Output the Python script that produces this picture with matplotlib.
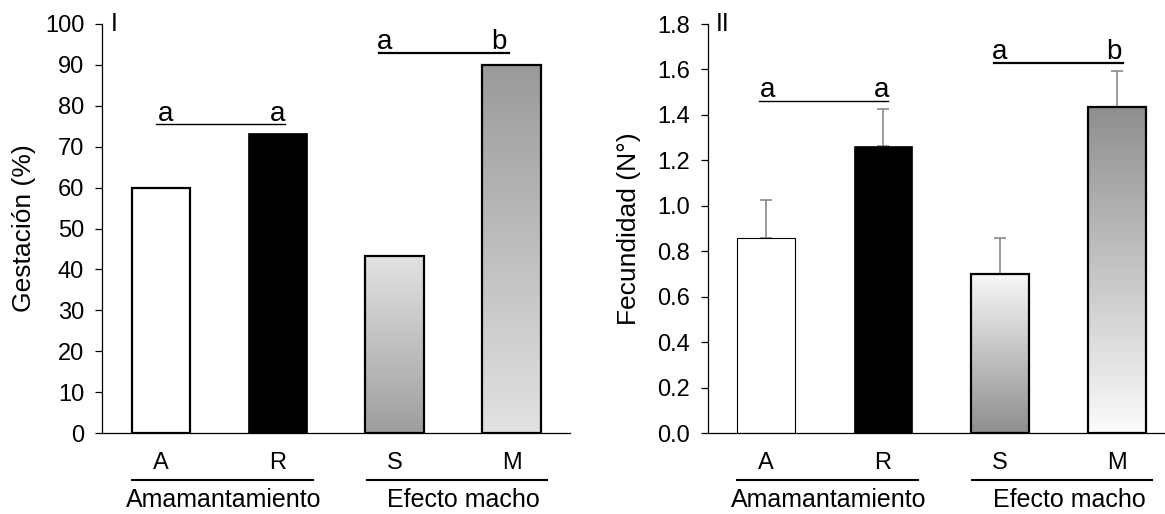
import numpy as np
import matplotlib
matplotlib.use('Agg')
import matplotlib.pyplot as plt
from matplotlib.colors import LinearSegmentedColormap

plt.rcParams['font.family'] = ['Liberation Sans', 'DejaVu Sans']

# data
categories = ['A', 'R', 'S', 'M']
groups = ['Amamantamiento', 'Efecto macho']
gestacion = [60.0, 73.3, 43.2, 90.0]
fecundidad = [0.86, 1.265, 0.70, 1.435]
fecundidad_err = [0.165, 0.162, 0.157, 0.16]

# significance letters: (x positions, letters, line start, line end, line height)
sig_gest = [([0.04, 1.0], ['a', 'a'], -0.04, 1.06, 75.5),
            ([1.91, 2.89], ['a', 'b'], 1.87, 2.98, 93.0)]
sig_fec = [([0.01, 0.99], ['a', 'a'], -0.06, 1.04, 1.463),
           ([2.0, 2.975], ['a', 'b'], 1.95, 3.05, 1.630)]


def gradient_fill(ax, rect, c_bottom, c_top):
    x0, y0 = rect.get_x(), rect.get_y()
    w, h = rect.get_width(), rect.get_height()
    grad = np.linspace(0, 1, 256).reshape(-1, 1)
    cmap = LinearSegmentedColormap.from_list('g', [c_bottom, c_top])
    im = ax.imshow(grad, cmap=cmap, extent=(x0, x0 + w, y0, y0 + h),
                   origin='lower', aspect='auto', zorder=1.5, interpolation='bilinear')
    im.set_clip_path(rect)


def style_axes(ax, ymax, ystep, fmt, ylabel, panel):
    ax.set_xlim(-0.5, 3.5)
    ax.set_ylim(0, ymax)
    ax.set_yticks(np.arange(0, ymax + ystep / 2, ystep))
    ax.set_yticklabels([fmt.format(v) for v in np.arange(0, ymax + ystep / 2, ystep)])
    ax.set_xticks(range(len(categories)))
    ax.set_xticklabels(categories)
    ax.tick_params(axis='x', length=0, pad=14, labelsize=17)
    ax.tick_params(axis='y', length=5, width=0.9, pad=8, labelsize=17, direction='out')
    for s in ['top', 'right']:
        ax.spines[s].set_visible(False)
    for s in ['left', 'bottom']:
        ax.spines[s].set_linewidth(0.9)
    ax.set_ylabel(ylabel, fontsize=19)
    ax.yaxis.set_label_coords(-0.142, 0.5)
    ax.text(0.018, 1.0, panel, transform=ax.transAxes, fontsize=18,
            ha='left', va='center')
    trans = ax.get_xaxis_transform()
    ax.plot([-0.25, 1.3], [-0.115, -0.115], transform=trans, color='black',
            lw=1.5, clip_on=False)
    ax.plot([1.76, 3.3], [-0.115, -0.115], transform=trans, color='black',
            lw=1.5, clip_on=False)
    ax.text(0.535, -0.165, groups[0], transform=trans, fontsize=18,
            ha='center', va='center')
    ax.text(2.59, -0.165, groups[1], transform=trans, fontsize=18,
            ha='center', va='center')


def draw_sig(ax, sig, widths):
    for (xs, letters, x0, x1, y), lw in zip(sig, widths):
        ax.plot([x0, x1], [y, y], color='black', lw=lw, clip_on=False, zorder=4)
        for x, t in zip(xs, letters):
            ax.annotate(t, (x, y), xytext=(0, 2.5), textcoords='offset points',
                        ha='center', va='baseline', fontsize=20, annotation_clip=False)


fig = plt.figure(figsize=(11.65, 5.14), dpi=100)
ax1 = fig.add_axes([102.3 / 1165, 81 / 514, 467.7 / 1165, 409 / 514])
ax2 = fig.add_axes([707.7 / 1165, 81 / 514, 467.7 / 1165, 409 / 514])

x = np.arange(len(categories))

# panel I
bars1 = ax1.bar(x, gestacion, width=0.5, zorder=2,
                facecolor='none', edgecolor='black', linewidth=1.6)
bars1[0].set_facecolor('white')
bars1[1].set_facecolor('black')
bars1[1].set_linewidth(0.5)
gradient_fill(ax1, bars1[2], '#9e9e9e', '#e2e2e2')
gradient_fill(ax1, bars1[3], '#e2e2e2', '#9a9a9a')
style_axes(ax1, 100, 10, '{:.0f}', 'Gestación (%)', 'I')
draw_sig(ax1, sig_gest, [1.0, 1.6])

# panel II
bars2 = ax2.bar(x, fecundidad, width=0.5, zorder=2,
                facecolor='none', edgecolor='black', linewidth=1.6)
bars2[0].set_facecolor('white')
bars2[0].set_linewidth(0.8)
bars2[1].set_facecolor('black')
bars2[1].set_linewidth(0.5)
gradient_fill(ax2, bars2[2], '#8e8e8e', '#f8f8f8')
gradient_fill(ax2, bars2[3], '#fbfbfb', '#8e8e8e')
ax2.errorbar(x, fecundidad, yerr=[np.zeros(len(x)), fecundidad_err], fmt='none',
             ecolor='#808080', elinewidth=1.1, capsize=4.5, capthick=1.1, zorder=1)
style_axes(ax2, 1.8, 0.2, '{:.1f}', 'Fecundidad (N°)', 'II')
draw_sig(ax2, sig_fec, [1.0, 1.6])

fig.savefig('out.png', dpi=100)
